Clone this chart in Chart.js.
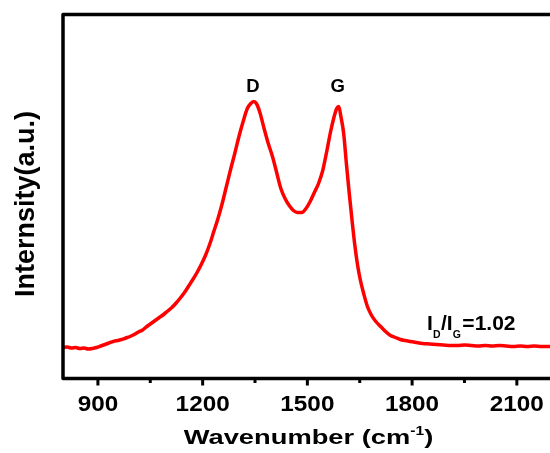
<!DOCTYPE html>
<html>
<head>
<meta charset="utf-8">
<title>Raman spectrum</title>
<script src="https://cdn.jsdelivr.net/npm/chart.js@4.4.1/dist/chart.umd.min.js"></script>
<style>
  html, body { margin: 0; padding: 0; background: #fff; }
  #wrap { width: 550px; height: 453px; }
</style>
</head>
<body>
<div id="wrap"><canvas id="ramanChart" width="550" height="453"></canvas></div>
<script>
// Raman shift (cm-1) and intensity (a.u.)
var wavenumbers = [800, 812, 824, 836, 848, 860, 872, 884, 896, 908, 920, 932, 944, 956, 968, 980, 992,
    1004, 1016, 1028, 1040, 1052, 1064, 1076, 1088, 1100, 1112, 1124, 1136, 1148, 1160, 1172, 1184, 1196,
    1208, 1220, 1232, 1244, 1256, 1268, 1280, 1292, 1304, 1316, 1328, 1338, 1346, 1354, 1364, 1376, 1388,
    1400, 1412, 1424, 1436, 1448, 1460, 1472, 1484, 1496, 1508, 1520, 1532, 1544, 1556, 1566, 1576, 1584,
    1590, 1596, 1604, 1612, 1620, 1628, 1636, 1644, 1652, 1662, 1672, 1684, 1696, 1710, 1724, 1738, 1752,
    1766, 1780, 1796, 1812, 1830, 1850, 1870, 1890, 1910, 1930, 1950, 1970, 1990, 2010, 2030, 2050, 2070,
    2090, 2110, 2130, 2150, 2170, 2190, 2200];
var intensity = [31, 31.5, 30.5, 31, 30, 30.5, 29.5, 30, 31, 32.5, 34, 35.5, 37, 38, 39, 40.5, 42,
    44, 46.5, 48.5, 52, 55, 58, 61, 64, 67.5, 71, 75.5, 80.5, 86, 92.5, 99, 106, 114,
    123, 134, 147, 160, 175, 192, 209, 225, 242, 257, 270, 275, 277, 275, 266, 250, 235,
    222, 206, 190, 180, 173, 168, 166, 166, 170, 177, 186, 195, 208, 228, 246, 261, 270,
    272, 262, 245, 214, 185, 158, 133, 113, 98, 84, 72, 63, 57, 52, 47, 43, 41,
    39, 38, 37, 36, 35, 34.5, 34, 33.5, 33, 33, 33.5, 33, 32.5, 33, 32.5, 33, 32.5,
    32, 32.5, 32, 32.5, 32, 32, 32];

var majorTicks = [900, 1200, 1500, 1800, 2100];
var minorTicks = [1050, 1350, 1650, 1950];
var peakNames = ['D', 'G'];
var peakPositions = [1344, 1587];
var ratioText = '=1.02';

var FONT = '"Liberation Sans", Arial, sans-serif';

// draw text squeezed/stretched horizontally like the original picture
function stretchedText(ctx, str, x, y, size, sx, align) {
    ctx.save();
    ctx.font = 'bold ' + size + 'px ' + FONT;
    ctx.textAlign = 'left';
    ctx.textBaseline = 'alphabetic';
    var w = ctx.measureText(str).width * sx;
    var x0 = x;
    if (align === 'center') x0 = x - w / 2;
    ctx.translate(x0, y);
    ctx.scale(sx, 1);
    ctx.fillText(str, 0, 0);
    ctx.restore();
    return w;
}

function textWidth(ctx, str, size, sx) {
    ctx.save();
    ctx.font = 'bold ' + size + 'px ' + FONT;
    var w = ctx.measureText(str).width * sx;
    ctx.restore();
    return w;
}

var framePlugin = {
    id: 'framePlugin',
    afterDraw: function (chart) {
        var ctx = chart.ctx;
        var area = chart.chartArea;
        var xs = chart.scales.x;
        var ys = chart.scales.y;

        ctx.save();
        ctx.fillStyle = '#000';
        ctx.strokeStyle = '#000';

        // frame: top, left, bottom (right side is cut off)
        ctx.lineWidth = 3.5;
        ctx.lineJoin = 'round';
        ctx.beginPath();
        ctx.moveTo(area.right + 5, area.top);
        ctx.lineTo(area.left, area.top);
        ctx.lineTo(area.left, area.bottom);
        ctx.lineTo(area.right + 5, area.bottom);
        ctx.stroke();

        // tick marks
        ctx.lineWidth = 3;
        majorTicks.forEach(function (v) {
            var px = xs.getPixelForValue(v);
            ctx.beginPath();
            ctx.moveTo(px, area.bottom);
            ctx.lineTo(px, area.bottom + 7);
            ctx.stroke();
        });
        minorTicks.forEach(function (v) {
            var px = xs.getPixelForValue(v);
            ctx.beginPath();
            ctx.moveTo(px, area.bottom);
            ctx.lineTo(px, area.bottom + 4.5);
            ctx.stroke();
        });

        // tick labels
        majorTicks.forEach(function (v) {
            stretchedText(ctx, String(v), xs.getPixelForValue(v), area.bottom + 32, 21.5, 1.13, 'center');
        });

        // x axis title with superscript
        var tSize = 21, tSx = 1.3;
        var parts = [['Wavenumber (cm', tSize, 0], ['-1', 12, -9], [')', tSize, 0]];
        var total = 0;
        parts.forEach(function (p) { total += textWidth(ctx, p[0], p[1], tSx); });
        var cx = (area.left + area.right) / 2 + 2 - total / 2;
        parts.forEach(function (p) {
            cx += stretchedText(ctx, p[0], cx, area.bottom + 65 + p[2], p[1], tSx, 'left');
        });

        // y axis title
        ctx.save();
        ctx.translate(34, 204);
        ctx.rotate(-Math.PI / 2);
        ctx.font = 'bold 27px ' + FONT;
        ctx.textAlign = 'center';
        ctx.textBaseline = 'alphabetic';
        ctx.fillText('Internsity(a.u.)', 0, 0);
        ctx.restore();

        // peak names
        peakNames.forEach(function (name, i) {
            stretchedText(ctx, name, xs.getPixelForValue(peakPositions[i]), ys.getPixelForValue(287), 18.5, 1, 'center');
        });

        // I_D/I_G ratio
        var rx = xs.getPixelForValue(1843);
        var ry = ys.getPixelForValue(48.5);
        rx += stretchedText(ctx, 'I', rx, ry, 21, 1, 'left');
        rx += stretchedText(ctx, 'D', rx, ry + 8, 10.5, 1, 'left') + 0.5;
        rx += stretchedText(ctx, '/', rx, ry, 21, 1, 'left');
        rx += stretchedText(ctx, 'I', rx, ry, 21, 1, 'left');
        rx += stretchedText(ctx, 'G', rx, ry + 8, 10.5, 1, 'left') + 1.5;
        stretchedText(ctx, ratioText, rx, ry, 21, 1, 'left');

        ctx.restore();
    }
};

function initializeChart() {
    var points = [];
    for (var i = 0; i < wavenumbers.length; i++) {
        points.push({ x: wavenumbers[i], y: intensity[i] });
    }

    var ctx = document.getElementById('ramanChart').getContext('2d');
    new Chart(ctx, {
        type: 'line',
        data: {
            datasets: [{
                label: 'Raman',
                data: points,
                borderColor: '#ff0000',
                borderWidth: 3.5,
                pointRadius: 0,
                fill: false,
                cubicInterpolationMode: 'monotone'
            }]
        },
        options: {
            responsive: false,
            animation: false,
            devicePixelRatio: 1,
            events: [],
            layout: {
                padding: { left: 63, top: 14.5, right: 0, bottom: 74.5 }
            },
            scales: {
                x: {
                    type: 'linear',
                    min: 800,
                    max: 2195,
                    display: false
                },
                y: {
                    min: 0,
                    max: 364,
                    display: false
                }
            },
            plugins: {
                legend: { display: false },
                tooltip: { enabled: false }
            }
        },
        plugins: [framePlugin]
    });
}

document.addEventListener('DOMContentLoaded', initializeChart);
</script>
</body>
</html>
